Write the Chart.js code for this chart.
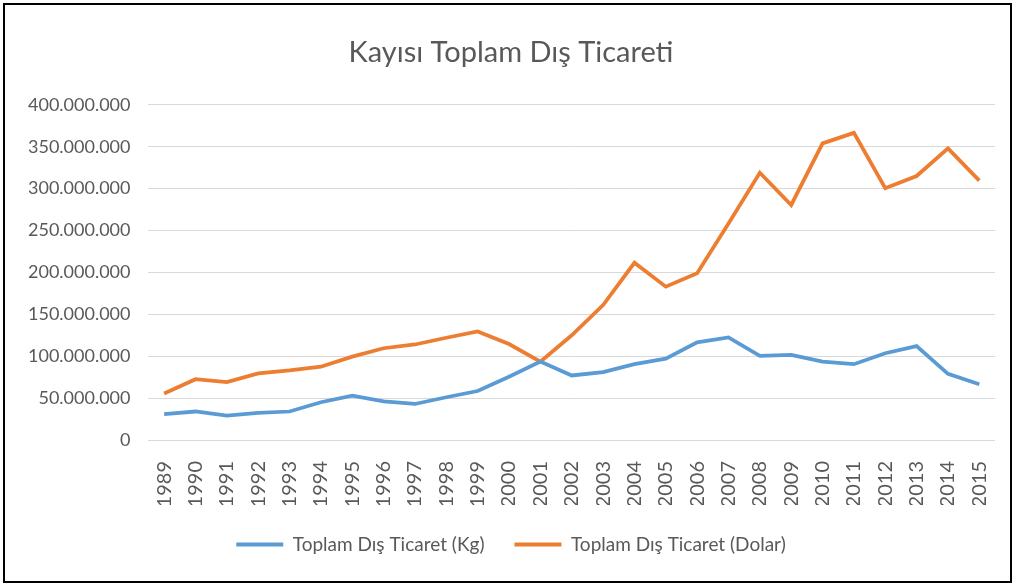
<!DOCTYPE html>
<html>
<head>
<meta charset="utf-8">
<script src="https://cdn.jsdelivr.net/npm/chart.js@4"></script>
<style>
  html, body { margin: 0; padding: 0; background: #fff; }
  #frame {
    position: absolute; left: 3px; top: 3px;
    width: 1005px; height: 576px;
    border: 2px solid #000;
  }
  #frame canvas { display: block; }
</style>
</head>
<body>
<div id="frame"><canvas id="tradeChart" width="1005" height="576"></canvas></div>
<script>
// Yıllar
const years = ['1989','1990','1991','1992','1993','1994','1995','1996','1997','1998','1999','2000',
  '2001','2002','2003','2004','2005','2006','2007','2008','2009','2010','2011','2012','2013','2014','2015'];

// Toplam Dış Ticaret (Kg)
const kgValues = [31000000, 34000000, 29000000, 32500000, 34000000, 45000000, 53000000, 46000000, 43000000,
  51000000, 58500000, 75500000, 93500000, 77000000, 81000000, 90500000, 97000000, 116500000, 122500000,
  100500000, 101500000, 93500000, 90500000, 103500000, 112000000, 79000000, 66500000];

// Toplam Dış Ticaret (Dolar)
const dollarValues = [55500000, 72500000, 69000000, 79500000, 83000000, 87500000, 99500000, 109500000, 114000000,
  122000000, 129500000, 114500000, 93500000, 125000000, 161000000, 211500000, 183000000, 199000000, 258500000,
  319000000, 280500000, 354000000, 366500000, 300500000, 315000000, 348000000, 309500000];

const seriesNames = ['Toplam Dış Ticaret (Kg)', 'Toplam Dış Ticaret (Dolar)'];
const yTicks = [0, 50000000, 100000000, 150000000, 200000000, 250000000, 300000000, 350000000, 400000000];

const fontFamily = 'Lato, "Open Sans", sans-serif';
const textColor = '#595959';

// Binlik ayırıcı olarak nokta
function formatNumber(v) {
    return String(v).replace(/\B(?=(\d{3})+(?!\d))/g, '.');
}

new Chart(document.getElementById('tradeChart'), {
    type: 'line',
    data: {
        labels: years,
        datasets: [{
            label: seriesNames[0],
            data: kgValues,
            borderColor: '#5B9BD5',
            backgroundColor: '#5B9BD5',
            borderWidth: 3.75,
            pointRadius: 0,
            tension: 0
        }, {
            label: seriesNames[1],
            data: dollarValues,
            borderColor: '#ED7D31',
            backgroundColor: '#ED7D31',
            borderWidth: 3.75,
            pointRadius: 0,
            tension: 0
        }]
    },
    options: {
        responsive: false,
        animation: false,
        layout: { padding: { left: 22, right: 15, top: 10, bottom: 17 } },
        plugins: {
            title: {
                display: true,
                text: 'Kayısı Toplam Dış Ticareti',
                color: textColor,
                font: { family: fontFamily, size: 29, weight: 'normal' },
                padding: { top: 20, bottom: 35 }
            },
            legend: {
                position: 'bottom',
                labels: {
                    color: textColor,
                    font: { family: fontFamily, size: 19 },
                    boxWidth: 47,
                    boxHeight: 4,
                    padding: 30,
                    generateLabels: function(chart) {
                        const items = Chart.defaults.plugins.legend.labels.generateLabels(chart);
                        items.forEach(item => { item.lineWidth = 0; });
                        return items;
                    }
                }
            },
            tooltip: { enabled: false }
        },
        scales: {
            x: {
                offset: true,
                grid: { display: false },
                border: { display: false },
                afterFit: function(axis) {
                    axis.height = 65;
                    axis.paddingRight = 0;
                },
                ticks: {
                    color: textColor,
                    font: { family: fontFamily, size: 20 },
                    minRotation: 90,
                    maxRotation: 90,
                    autoSkip: false,
                    padding: 13
                }
            },
            y: {
                min: 0,
                max: 400000000,
                afterBuildTicks: function(axis) {
                    axis.ticks = yTicks.map(v => ({ value: v }));
                },
                afterFit: function(axis) { axis.width -= 17; },
                grid: { color: '#D9D9D9', lineWidth: 1, drawTicks: false },
                border: { display: false },
                ticks: {
                    color: textColor,
                    font: { family: fontFamily, size: 18 },
                    padding: 18,
                    callback: function(value) { return formatNumber(value); }
                }
            }
        }
    }
});
</script>
</body>
</html>
